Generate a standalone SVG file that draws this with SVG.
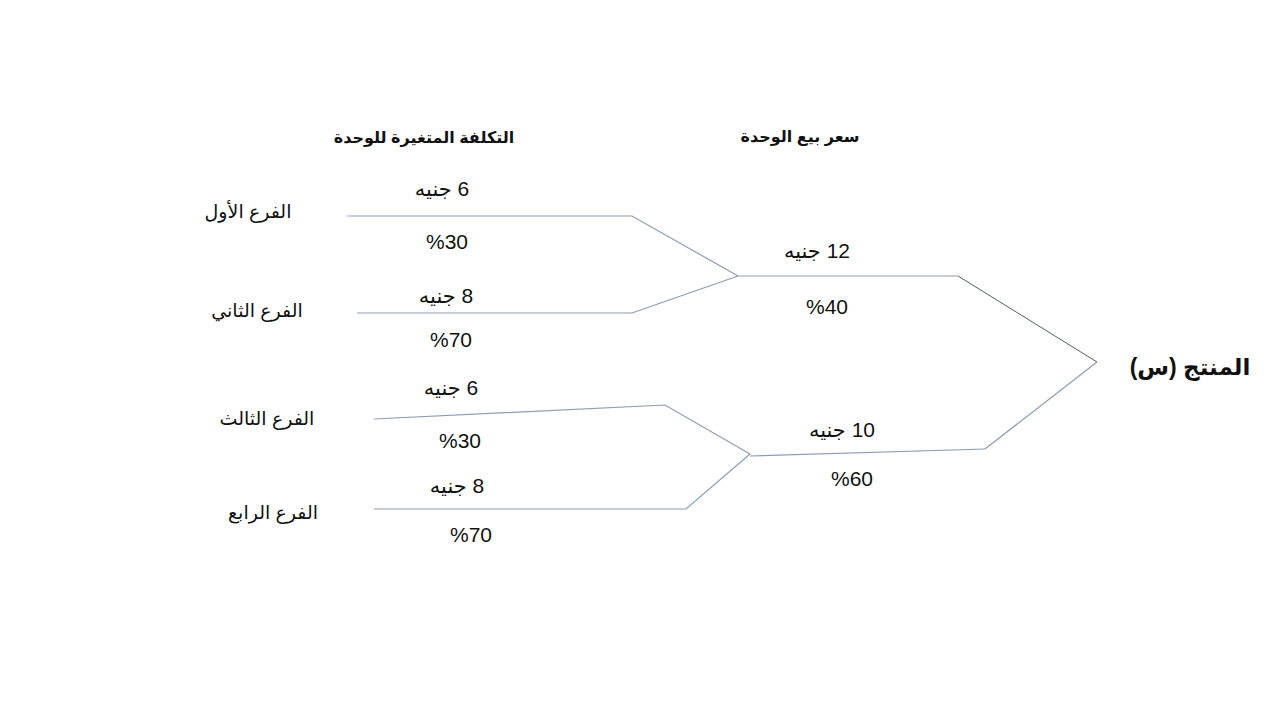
<svg xmlns="http://www.w3.org/2000/svg" width="1280" height="720" viewBox="0 0 1280 720">
<style>
text{font-family:"Liberation Sans","DejaVu Sans",sans-serif;fill:#111;text-anchor:middle}
.ar{direction:rtl;unicode-bidi:embed}
.hd{font-weight:bold;font-size:16px}
.lb{font-size:19px}
.v{font-size:21px}
.big{font-weight:bold;font-size:23px}
.c{fill:none;stroke:#8d9bb4;stroke-width:1.2}
.d{fill:none;stroke:#555b66;stroke-width:1}
</style>
<rect width="1280" height="720" fill="#fff"/>
<g id="connectors">
<polyline class="c" points="347,216 632,216 738,276"/>
<polyline class="c" points="357,313 632,313 738,276"/>
<polyline class="c" points="738,276 958,276"/>
<polyline class="d" points="958,276 1097,362"/>
<polyline class="c" points="374,419 665,405 750,454"/>
<polyline class="c" points="374,509 686,509 750,454"/>
<polyline class="c" points="750,456 985,449"/>
<polyline class="c" points="985,449 1097,362"/>
</g>
<g id="headers">
<text class="hd ar" x="424" y="143">التكلفة المتغيرة للوحدة</text>
<text class="hd ar" x="800" y="142">سعر بيع الوحدة</text>
</g>
<g id="branch1">
<text class="lb ar" x="248" y="218">الفرع الأول</text>
<text class="v ar" x="442" y="196">6 جنيه</text>
<text class="v" x="447" y="249">%30</text>
</g>
<g id="branch2">
<text class="lb ar" x="257" y="317">الفرع الثاني</text>
<text class="v ar" x="446" y="303">8 جنيه</text>
<text class="v" x="451" y="347">%70</text>
</g>
<g id="branch3">
<text class="lb ar" x="267" y="425">الفرع الثالث</text>
<text class="v ar" x="451" y="395">6 جنيه</text>
<text class="v" x="460" y="448">%30</text>
</g>
<g id="branch4">
<text class="lb ar" x="273" y="519">الفرع الرابع</text>
<text class="v ar" x="457" y="493">8 جنيه</text>
<text class="v" x="471" y="542">%70</text>
</g>
<g id="price12">
<text class="v ar" x="817" y="258">12 جنيه</text>
<text class="v" x="827" y="314">%40</text>
</g>
<g id="price10">
<text class="v ar" x="842" y="437">10 جنيه</text>
<text class="v" x="852" y="486">%60</text>
</g>
<g id="product">
<text class="big ar" x="1190" y="375">المنتج (س)</text>
</g>
</svg>
